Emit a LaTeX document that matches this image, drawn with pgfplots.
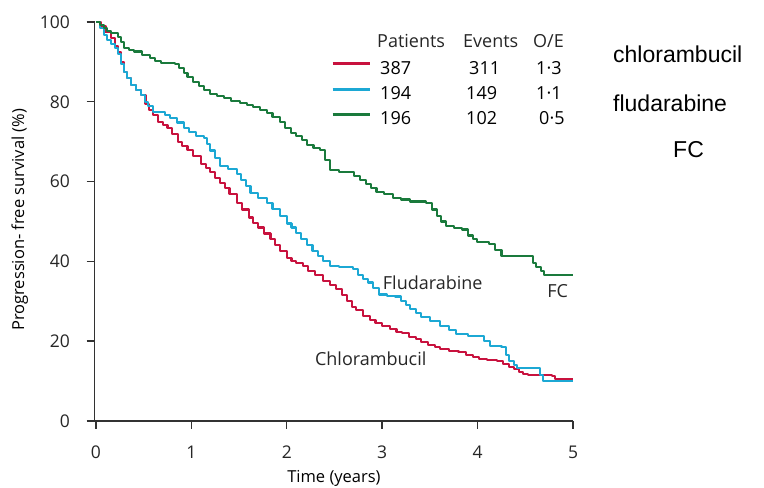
\documentclass[border=0pt]{standalone}
\usepackage{fontspec}
\setmainfont{Open Sans}
\newfontfamily\arialfont{Liberation Sans}
\usepackage{pgfplots}
\pgfplotsset{compat=1.18}
\definecolor{cchl}{RGB}{200,18,62}
\definecolor{cflu}{RGB}{28,168,212}
\definecolor{cfc}{RGB}{26,122,60}
\definecolor{axgray}{RGB}{50,50,50}
\newcommand{\tickfont}{\fontsize{17.5bp}{20bp}\selectfont}
\newcommand{\labfont}{\fontsize{16.5bp}{20bp}\selectfont}
\newcommand{\legfont}{\fontsize{18bp}{21bp}\selectfont}
\begin{document}
\begin{tikzpicture}[x=1bp,y=1bp]
\path[use as bounding box] (0,0) rectangle (764,488);
\begin{axis}[
  at={(94.5bp,67bp)}, anchor=south west,
  scale only axis, width=478.5bp, height=399bp,
  xmin=-0.015, xmax=5, ymin=0, ymax=100,
  axis x line*=bottom, axis y line*=left,
  axis line style={line width=1.4bp, color=axgray},
  xtick={0,1,2,3,4,5}, ytick={0,20,40,60,80,100},
  tick align=outside, major tick length=8bp,
  tick style={line width=1.4bp, color=axgray},
  ticklabel style={font=\tickfont, text=black!85},
  xticklabel style={yshift=-13bp},
  yticklabel style={xshift=-13bp},
  /pgf/number format/assume math mode=true,
  xlabel={Time (years)}, ylabel={Progression- free survival (\%)},
  xlabel style={font=\labfont, at={(axis description cs:0.5005,-0.145)}, anchor=center},
  ylabel style={font=\labfont, at={(axis description cs:-0.156,0.504)}, anchor=center},
  clip=false,
  legend cell align=left,
  legend style={at={(axis description cs:0.4943,0.912)}, anchor=north west,
    draw=none, fill=none, inner sep=0pt, row sep=0pt, column sep=9bp,
    font=\legfont,
    nodes={inner sep=0pt, text height=17bp, text depth=8.3bp}},
  legend image code/.code={\draw[#1, line width=3bp] (0bp,6bp) -- (37bp,6bp);},
]
\addplot[const plot, cchl, line width=2.1bp, line join=round] coordinates {
(0,100) (0.05,99) (0.1,97.5) (0.16,96) (0.2,94) (0.23,92.5) (0.26,90) (0.29,87.5)
(0.33,86) (0.37,84.2) (0.42,83) (0.47,81.7) (0.52,79.5) (0.56,78) (0.6,76.7) (0.65,75)
(0.7,74.2) (0.75,73.5) (0.8,72) (0.86,70) (0.9,69) (0.96,68) (1.02,66.5) (1.1,64.5)
(1.15,63.5) (1.2,62.5) (1.25,61) (1.3,59.7) (1.35,58.5) (1.4,57) (1.48,54.7) (1.53,53)
(1.6,51) (1.65,49.7) (1.7,48.5) (1.76,47) (1.83,45.5) (1.88,44) (1.93,42.5) (2.0,40.8)
(2.05,40) (2.1,39.7) (2.17,38.8) (2.22,37.5) (2.3,36.5) (2.38,35) (2.45,34) (2.52,33)
(2.58,31.5) (2.63,30) (2.68,28.5) (2.73,27.8) (2.8,26.3) (2.87,25.3) (2.93,24.6) (3.0,23.8)
(3.08,23) (3.15,22.4) (3.21,22) (3.28,21) (3.35,20.5) (3.41,19.7) (3.48,19) (3.55,18.5)
(3.61,18) (3.7,17.5) (3.8,17.2) (3.88,16.5) (3.95,16) (4.01,15.5) (4.1,15.2) (4.2,15)
(4.27,14.3) (4.33,13.5) (4.38,13) (4.43,12.3) (4.48,11.8) (4.53,11.6) (4.6,11.5) (4.7,11.5)
(4.78,11.3) (4.81,10.6) (5.0,10.6)
};
\addlegendentry{\makebox[86bp][l]{387}\makebox[70bp][l]{\,311}1·3}
\addplot[const plot, cflu, line width=2.1bp, line join=round] coordinates {
(0,100) (0.04,98.5) (0.08,96.8) (0.12,95.5) (0.16,94.5) (0.2,93.5) (0.23,92) (0.26,89.5)
(0.29,87.5) (0.33,86) (0.37,84.2) (0.42,83) (0.47,81.7) (0.51,80) (0.55,79) (0.6,77.5)
(0.68,77.5) (0.72,76.8) (0.78,76) (0.85,74.8) (0.92,73.5) (0.98,72.5) (1.05,71.5) (1.13,71)
(1.16,69.5) (1.2,67.8) (1.25,66) (1.3,64) (1.38,63.2) (1.48,62) (1.52,60.5) (1.57,59)
(1.62,57.2) (1.7,56) (1.79,54.7) (1.85,53.2) (1.93,51.3) (2.0,49.5) (2.05,48.5) (2.1,47.2)
(2.15,45.5) (2.21,44) (2.27,42.5) (2.33,41.3) (2.38,40) (2.45,38.8) (2.55,38.5) (2.69,38.2)
(2.75,36.5) (2.8,35.5) (2.85,34.7) (2.9,33.3) (2.97,31.7) (3.05,31.3) (3.13,31.2) (3.2,30)
(3.25,29) (3.29,28) (3.35,27) (3.41,26) (3.5,25) (3.61,23.8) (3.7,22.8) (3.77,21.7)
(3.9,21.4) (4.01,21.3) (4.07,20) (4.13,18.8) (4.25,18.5) (4.3,16.5) (4.33,15) (4.38,14)
(4.41,13.3) (4.61,13.3) (4.65,11.5) (4.69,10) (5.0,10)
};
\addlegendentry{\makebox[86bp][l]{194}\makebox[70bp][l]{149}1·1}
\addplot[const plot, cfc, line width=2.1bp, line join=round] coordinates {
(0,100) (0.04,99.3) (0.08,98.5) (0.12,97.8) (0.16,97.2) (0.23,96.3) (0.26,95) (0.29,93.5)
(0.35,93) (0.4,92.6) (0.48,91.8) (0.57,91) (0.62,90.3) (0.68,89.7) (0.83,89.4) (0.87,88.5)
(0.92,87.3) (0.96,86.3) (1.02,85) (1.08,84) (1.13,83) (1.2,82) (1.27,81.5) (1.34,81)
(1.42,80.3) (1.51,79.8) (1.58,79.2) (1.65,78.8) (1.72,78) (1.79,77.2) (1.85,76.2) (1.93,75)
(1.98,73.5) (2.04,72.2) (2.1,71.5) (2.16,70.5) (2.21,69.2) (2.28,68.5) (2.35,68) (2.4,65.5)
(2.45,63) (2.55,62.5) (2.63,62.3) (2.7,61.5) (2.77,60.5) (2.83,59.5) (2.88,58.5) (2.94,57.5)
(3.02,57) (3.11,56) (3.2,55.5) (3.29,55) (3.46,54.7) (3.52,53) (3.57,51.3) (3.62,50)
(3.67,48.8) (3.75,48.3) (3.84,48) (3.9,46.5) (3.95,45.5) (3.99,44.8) (4.12,44.3) (4.18,42.8)
(4.25,41.3) (4.54,41.3) (4.58,39.5) (4.61,38.5) (4.66,37.5) (4.70,36.7) (5.0,36.7)
};
\addlegendentry{\makebox[86bp][l]{196}\makebox[70bp][l]{102}\,0·5}
\node[font=\legfont, text=black!85] at (axis cs:3.53,34.6) {Fludarabine};
\node[font=\legfont, text=black!85] at (axis cs:4.84,32.6) {FC};
\node[font=\legfont, text=black!85] at (axis cs:2.88,15.5) {Chlorambucil};
\end{axis}
\node[font=\legfont, text=black!85, anchor=base west, inner sep=0pt] at (377,440)
  {\makebox[86bp][l]{Patients}\makebox[70bp][l]{Events}O/E};
\node[font=\arialfont\fontsize{23bp}{27bp}\selectfont, anchor=base west, inner sep=0pt] at (613,425) {chlorambucil};
\node[font=\arialfont\fontsize{23bp}{27bp}\selectfont, anchor=base west, inner sep=0pt] at (613,376) {fludarabine};
\node[font=\arialfont\fontsize{23bp}{27bp}\selectfont, anchor=base west, inner sep=0pt] at (673,330) {FC};
\end{tikzpicture}
\end{document}
